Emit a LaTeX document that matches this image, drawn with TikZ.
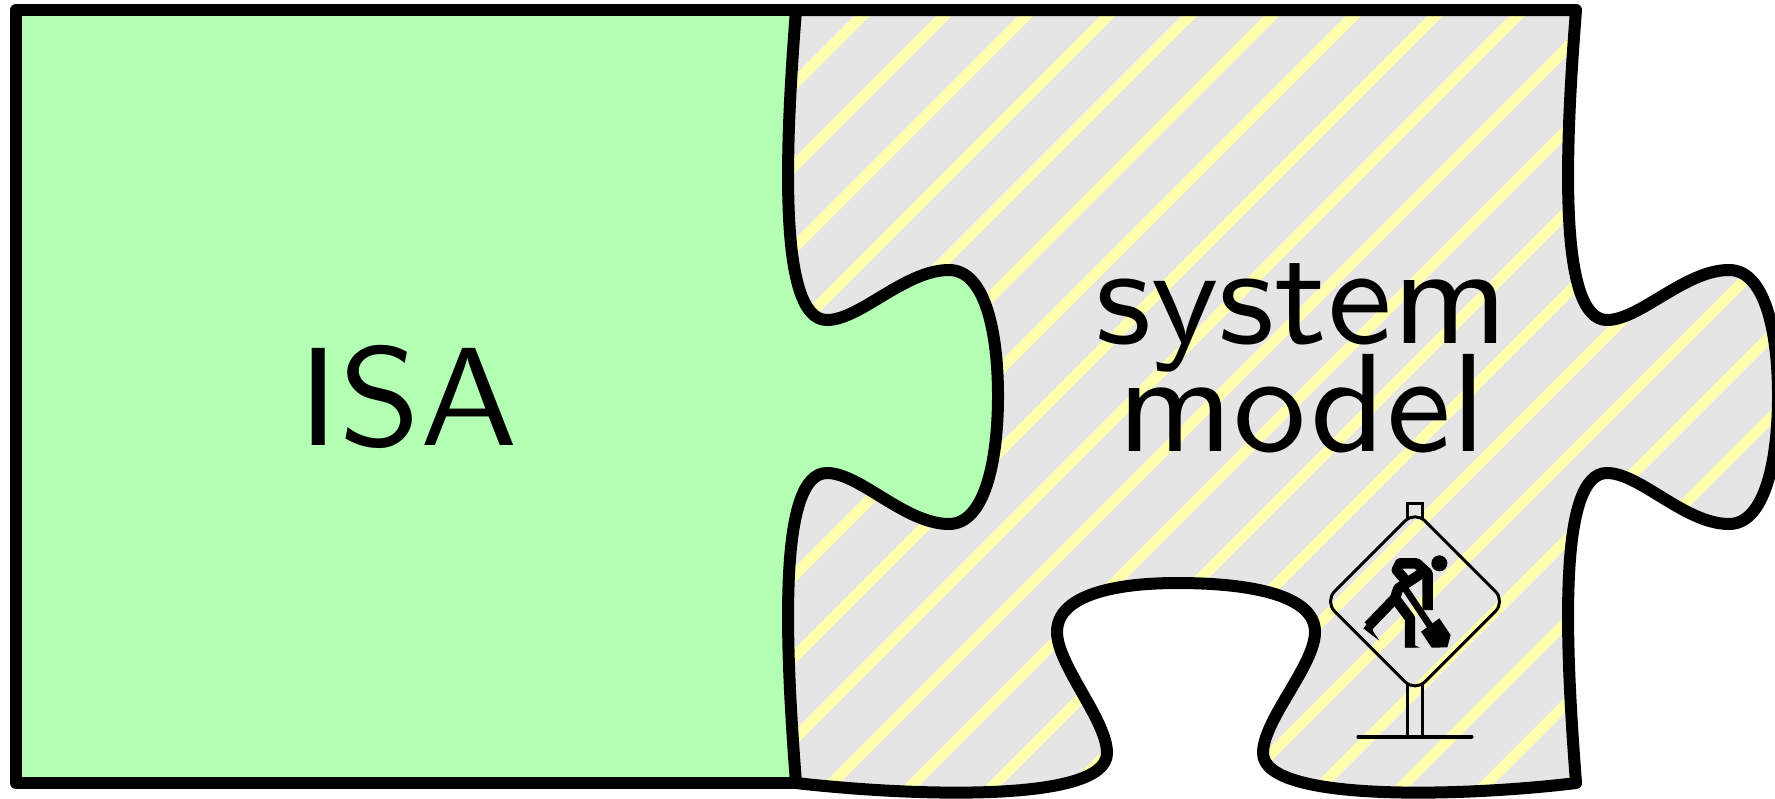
\documentclass[tikz,border=0pt]{standalone}
\usepackage{fontspec}
\definecolor{isagreen}{HTML}{B3FFB3}
\definecolor{modelgray}{HTML}{E5E5E5}
\definecolor{stripeyellow}{HTML}{FFFFAE}
\tikzset{
  outline/.style={draw=black,line width=6pt,line join=round},
  stripe/.style={draw=stripeyellow,line width=5.4pt},
  bigtext/.style={inner sep=0pt,text=black},
  signline/.style={draw=black,line width=1.5pt},
  figline/.style={draw=black,line width=5.2pt,line join=round},
}
\newcommand{\bigsf}[1]{\scalebox{7.3}[7]{\fontsize{10}{12}\selectfont\sffamily #1}}
\newcommand{\tabedge}{(796,10) .. controls (785,150) and (778,320) .. (827,320)
  .. controls (860,320) and (905,270) .. (949,270)
  .. controls (985,270) and (998,332) .. (998,396)
  .. controls (998,460) and (985,524) .. (949,524)
  .. controls (905,524) and (860,473) .. (827,473)
  .. controls (778,473) and (785,640) .. (796,783)}
\newcommand{\modelrest}{.. controls (900,795) and (1107,805) .. (1107,753)
  .. controls (1107,720) and (1057,665) .. (1057,632)
  .. controls (1057,595) and (1115,583) .. (1177,583)
  .. controls (1250,583) and (1315,595) .. (1315,632)
  .. controls (1315,665) and (1263,720) .. (1263,753)
  .. controls (1263,805) and (1480,795) .. (1576,783)
  .. controls (1565,640) and (1558,473) .. (1607,473)
  .. controls (1640,473) and (1685,524) .. (1729,524)
  .. controls (1765,524) and (1778,460) .. (1778,396)
  .. controls (1778,332) and (1765,270) .. (1729,270)
  .. controls (1685,270) and (1640,320) .. (1607,320)
  .. controls (1558,320) and (1565,150) .. (1576,10) -- cycle}
\begin{document}
\begin{tikzpicture}[x=0.5pt,y=-0.5pt]
\useasboundingbox (0,0) rectangle (1775,798);
\begin{scope}
  \clip (0,0) rectangle (1775,798);
  \fill[modelgray] \tabedge \modelrest;
  \begin{scope}
    \clip \tabedge \modelrest;
    \foreach \k in {0,...,22} {
      \pgfmathsetmacro{\s}{878+81.9*(\k-1)}
      \draw[stripe] (\s,0) -- (\s-800,800);
    }
  \end{scope}
  \fill[isagreen] (16,10) -- \tabedge -- (16,783) -- cycle;
  \draw[outline] \tabedge \modelrest;
  \draw[outline] (796,783) -- (16,783) -- (16,10) -- (796,10);
\end{scope}
\node[bigtext,anchor=base] (isa) at (408,445) {\bigsf{ISA}};
\node[bigtext,anchor=base] (sys) at (1302,343) {\bigsf{system}};
\node[bigtext,anchor=base] (mod) at (1302,451) {\bigsf{model}};
\begin{scope}[shift={(1300,480)},x=0.16667pt,y=-0.16667pt]
  \draw[signline] (322,115) -- (322,70) -- (368,70) -- (368,115);
  \draw[signline] (322,612) -- (322,770) (368,612) -- (368,770);
  \draw[signline,line width=1.9pt,line cap=round] (175,770) -- (515,770);
  \draw[signline,rounded corners=7pt] (345,93) -- (616,364) -- (345,635) -- (74,364) -- cycle;
\end{scope}
\begin{scope}[shift={(1360,550)},x=0.16667pt,y=-0.16667pt]
  \fill (238,40) circle (24);
  \draw[figline] (203,180) -- (203,70) -- (170,40) -- (120,40) -- (110,60) -- (140,95);
  \draw[figline] (200,60) -- (115,115) -- (105,145) -- (25,228);
  \fill (10,235) -- (30,210) -- (40,245) -- (58,272) -- cycle;
  \draw[figline] (105,145) -- (150,205) -- (150,292);
  \fill (135,280) -- (135,293) -- (180,293) -- (155,282) -- cycle;
  \draw[figline,line width=3.4pt] (125,100) -- (225,250);
  \fill (183,245) -- (238,205) -- (272,255) -- (262,292) -- (215,293) -- cycle;
\end{scope}
\end{tikzpicture}
\end{document}
